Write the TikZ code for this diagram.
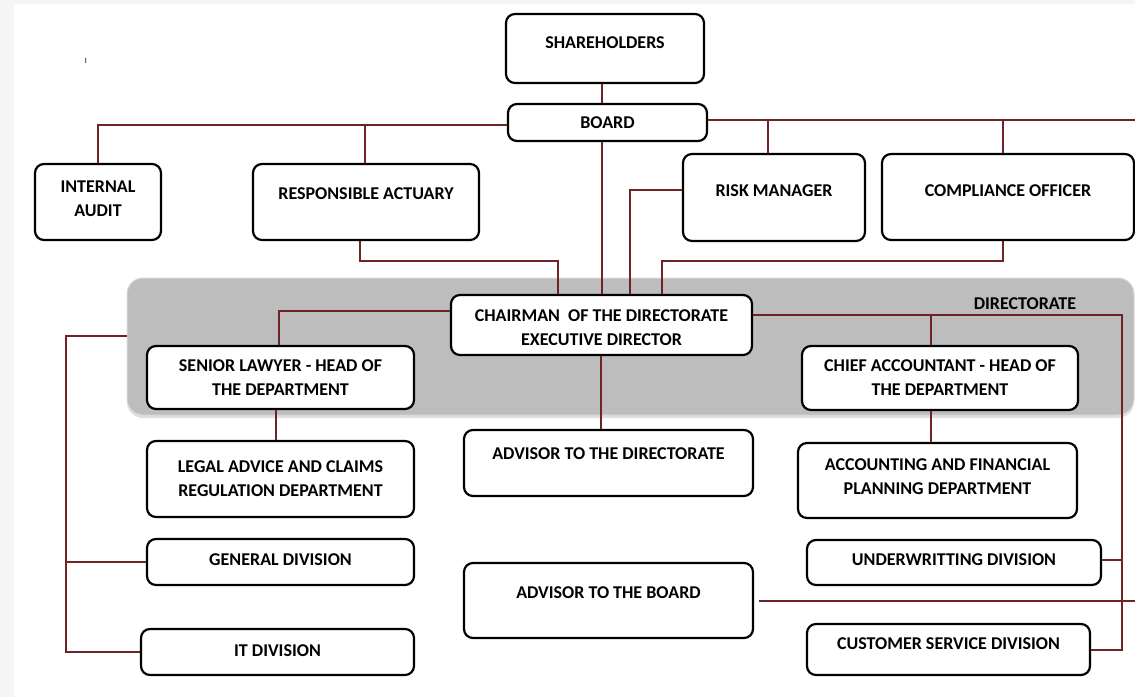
\documentclass[tikz,border=0pt]{standalone}
\usepackage{fontspec}
\setmainfont{Carlito}
\usepackage{tikz}
\usetikzlibrary{positioning,shadows,calc}
\definecolor{linkred}{RGB}{110,36,36}
\definecolor{bandgray}{RGB}{189,189,189}
\tikzset{
    raw box/.style={rectangle, draw=black, line width=2.2pt, rounded corners=9pt, fill=white, inner sep=0pt, align=center, font=\bfseries\fontsize{18}{24}\selectfont},
    box/.style={raw box, text height=12pt, text depth=#1},
    box/.default=0pt,
    twoline/.style={raw box},
    band/.style={rectangle, rounded corners=16pt, fill=bandgray, draw=black!15, line width=1pt, drop shadow={opacity=0.25, shadow xshift=0pt, shadow yshift=-3pt}},
    bandlabel/.style={font=\bfseries\fontsize{18}{24}\selectfont, inner sep=0pt},
    link/.style={draw=linkred, line width=2pt}
}

\begin{document}
\begin{tikzpicture}[x=1pt,y=-1pt]
    \useasboundingbox (0,0) rectangle (1135,697);
    \fill[black!4] (0,0) rectangle (14,697);
    \fill[black!4] (0,0) rectangle (1135,4);
    \node[font=\fontsize{8}{8}\selectfont, inner sep=0pt] (tick) at (86,61) {I};
    \coordinate (edge) at (1135,0);

    \node[band, minimum width=1007pt, minimum height=137pt] (dir) at (630.5,346.5) {};
    \node[bandlabel] (dirlabel) at (1025,304) {DIRECTORATE};

    \node[box=13pt, minimum width=198pt, minimum height=69pt] (sh) at (605,48.5) {SHAREHOLDERS};
    \node[box, minimum width=199pt, minimum height=37pt] (bd) at (607.5,122.5) {BOARD};
    \node[twoline, minimum width=126pt, minimum height=76pt] (ia) at (98,202) {INTERNAL\\AUDIT\\[-18pt]};
    \node[box=18pt, minimum width=226pt, minimum height=76pt] (ra) at (366,202) {RESPONSIBLE ACTUARY};
    \node[box=15pt, minimum width=182pt, minimum height=87pt] (rm) at (774,197.5) {RISK MANAGER};
    \node[box=14pt, minimum width=252pt, minimum height=86pt] (co) at (1008,197) {COMPLIANCE OFFICER};

    \node[twoline, minimum width=301pt, minimum height=60pt] (ch) at (601.5,325) {CHAIRMAN~ OF THE DIRECTORATE\\EXECUTIVE DIRECTOR\\[-30pt]};
    \node[twoline, minimum width=267pt, minimum height=63pt] (sl) at (280.5,377.5) {SENIOR LAWYER - HEAD OF\\THE DEPARTMENT};
    \node[twoline, minimum width=276pt, minimum height=64pt] (ca) at (940,378) {CHIEF ACCOUNTANT - HEAD OF\\THE DEPARTMENT};

    \node[twoline, minimum width=267pt, minimum height=76pt] (la) at (280.5,479) {LEGAL ADVICE AND CLAIMS\\REGULATION DEPARTMENT};
    \node[box=20pt, minimum width=289pt, minimum height=66pt] (ad) at (608.5,463) {ADVISOR TO THE DIRECTORATE};
    \node[twoline, minimum width=279pt, minimum height=75pt] (af) at (937.5,480.5) {ACCOUNTING AND FINANCIAL\\PLANNING DEPARTMENT\\[-16pt]};

    \node[box=6pt, minimum width=267pt, minimum height=46pt] (gd) at (280.5,562) {GENERAL DIVISION};
    \node[box=17pt, minimum width=289pt, minimum height=75pt] (ab) at (608.5,600.5) {ADVISOR TO THE BOARD};
    \node[box=7pt, minimum width=294pt, minimum height=45pt] (uw) at (954,562.5) {UNDERWRITTING DIVISION};
    \node[box=4pt, minimum width=273pt, minimum height=46pt] (it) at (277.5,652) {IT DIVISION};
    \node[box=13pt, minimum width=283pt, minimum height=51pt] (cs) at (948.5,649.5) {CUSTOMER SERVICE DIVISION};

    \coordinate (rail) at (1122,315);
    \coordinate (spine) at (66,336);

    \draw[link] ([xshift=-3pt]sh.south) -- ([xshift=-3pt]sh.south |- bd.north);
    \draw[link] ([yshift=-2.5pt]bd.west) -| (ia.north);
    \draw[link] ([yshift=-2.5pt]bd.west) -| ([xshift=-1pt]ra.north);
    \draw[link] ([yshift=2.5pt]bd.east) -- ([yshift=2.5pt]bd.east -| edge);
    \draw[link] ([yshift=2.5pt]bd.east) -| ([xshift=-6pt]rm.north);
    \draw[link] ([yshift=2.5pt]bd.east) -| ([xshift=-5pt]co.north);
    \draw[link] (ch.north |- bd.south) -- (ch.north);
    \draw[link] ([xshift=-6pt]ra.south) -- ++(0,20) -| ([xshift=-44pt]ch.north);
    \draw[link] ([yshift=8pt]rm.west) -| ([xshift=28pt]ch.north);
    \draw[link] ([xshift=-5pt]co.south) -- ++(0,20) -| ([xshift=60pt]ch.north);
    \draw[link] ([yshift=14pt]ch.west) -| ([xshift=-2pt]sl.north);
    \draw[link] ([yshift=10pt]ch.east) -- (rail) |- (cs.east);
    \draw[link] ([xshift=-9pt]ca.north |- rail) -- ([xshift=-9pt]ca.north);
    \draw[link] ([xshift=-5pt]sl.south) -- ([xshift=-5pt]sl.south |- la.north);
    \draw[link] ([xshift=-9pt]ca.south) -- ([xshift=-9pt]ca.south |- af.north);
    \draw[link] ([xshift=-1pt]ch.south) -- ([xshift=-1pt]ch.south |- ad.north);
    \draw[link] ([yshift=3pt]uw.east) -- ([yshift=3pt]uw.east -| rail);
    \draw[link] ([xshift=5pt]ab.east) -- (ab.east -| edge);
    \draw[link] (dir.west |- spine) -- (spine) |- (it.west);
    \draw[link] (spine |- gd.west) -- (gd.west);
\end{tikzpicture}
\end{document}
